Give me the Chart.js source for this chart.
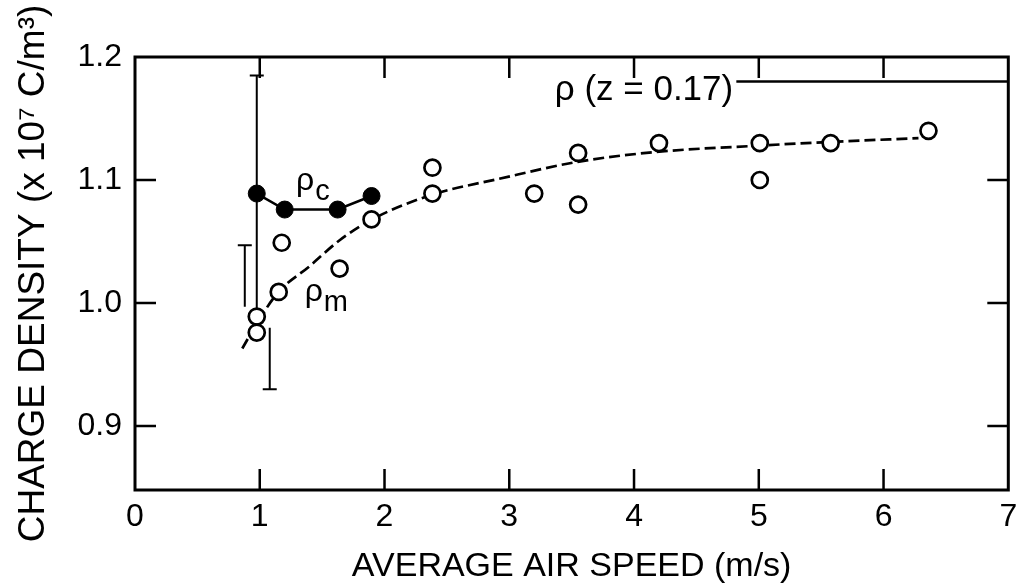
<!DOCTYPE html>
<html><head><meta charset="utf-8">
<script src="https://cdn.jsdelivr.net/npm/chart.js@4/dist/chart.umd.min.js"></script>
<style>html,body{margin:0;padding:0;background:#fff;} canvas{display:block;}</style>
</head><body>
<canvas id="c" width="1019" height="586"></canvas>
<script>
// ---- data ----
const xTicks = [0, 1, 2, 3, 4, 5, 6, 7];
const yTicks = [0.9, 1.0, 1.1, 1.2];
// rho_c (filled circles, solid line)
const rhoCX = [0.976, 1.20, 1.624, 1.896];
const rhoCY = [1.089, 1.076, 1.076, 1.087];
// rho_m (open circles)
const rhoMX = [0.976, 0.976, 1.152, 1.176, 1.64, 1.896, 2.384, 2.384, 3.2, 3.552, 3.552, 4.2, 5.008, 5.008, 5.576, 6.36];
const rhoMY = [0.989, 0.976, 1.009, 1.049, 1.028, 1.068, 1.110, 1.089, 1.089, 1.122, 1.080, 1.130, 1.130, 1.100, 1.130, 1.140];
// dashed fit through rho_m
const fitX = [0.86, 0.98, 1.15, 1.40, 1.64, 1.90, 2.38, 2.92, 3.56, 4.20, 5.01, 5.58, 6.28];
const fitY = [0.963, 0.984, 1.009, 1.030, 1.051, 1.068, 1.088, 1.101, 1.115, 1.123, 1.128, 1.131, 1.134];
// rho (z = 0.17) reference level
const refX = [4.82, 7];
const refY = [1.18, 1.18];
// error bars
const errX = [0.976, 0.88, 1.08];
const errLo = [0.992, 0.997, 0.930];
const errHi = [1.185, 1.047, 0.980];
const errCap = ['top', 'top', 'bottom'];

const FONT = '"Liberation Sans", Arial, Helvetica, sans-serif';
const pts = (xs, ys) => xs.map((x, i) => ({x, y: ys[i]}));

// text annotations (data-anchored)
const notes = {
  rc: {x: 1.29, y: 1.092, main: 'ρ', sub: 'c'},
  rm: {x: 1.36, y: 1.002, main: 'ρ', sub: 'm'},
  rz: {x: 4.795, y: 1.165, text: 'ρ (z = 0.17)'}
};

const errorBarPlugin = {
  id: 'errorBars',
  beforeDatasetsDraw(chart) {
    const {ctx, scales: {x, y}} = chart;
    ctx.save();
    ctx.strokeStyle = '#000';
    ctx.lineWidth = 2;
    const cap = 7;
    errX.forEach((ex, i) => {
      const px = x.getPixelForValue(ex);
      const pLo = y.getPixelForValue(errLo[i]);
      const pHi = y.getPixelForValue(errHi[i]);
      ctx.beginPath();
      ctx.moveTo(px, pLo); ctx.lineTo(px, pHi);
      const cy = errCap[i] === 'top' ? pHi : pLo;
      ctx.moveTo(px - cap, cy); ctx.lineTo(px + cap, cy);
      ctx.stroke();
    });
    ctx.restore();
  }
};

const framePlugin = {
  id: 'frameTicks',
  afterDraw(chart) {
    const {ctx, chartArea: a, scales: {x, y}} = chart;
    ctx.save();
    ctx.strokeStyle = '#000';
    ctx.lineWidth = 2.5;
    const tl = 21;
    ctx.beginPath();
    xTicks.forEach(v => {
      if (v === x.min || v === x.max) return;
      const px = x.getPixelForValue(v);
      ctx.moveTo(px, a.bottom); ctx.lineTo(px, a.bottom - tl);
      ctx.moveTo(px, a.top); ctx.lineTo(px, a.top + tl);
    });
    yTicks.forEach(v => {
      if (v >= y.max || v <= y.min) return;
      const py = y.getPixelForValue(v);
      ctx.moveTo(a.left, py); ctx.lineTo(a.left + tl, py);
      ctx.moveTo(a.right, py); ctx.lineTo(a.right - tl, py);
    });
    ctx.stroke();
    ctx.lineWidth = 3;
    ctx.strokeRect(a.left, a.top, a.right - a.left, a.bottom - a.top);
    ctx.restore();
  }
};

const labelPlugin = {
  id: 'labels',
  afterDatasetsDraw(chart) {
    const {ctx, scales: {x, y}} = chart;
    ctx.save();
    ctx.fillStyle = '#000';
    ctx.textBaseline = 'alphabetic';
    [notes.rc, notes.rm].forEach(n => {
      const px = x.getPixelForValue(n.x), py = y.getPixelForValue(n.y);
      ctx.font = '32px ' + FONT;
      ctx.textAlign = 'left';
      ctx.fillText(n.main, px, py);
      const w = ctx.measureText(n.main).width;
      ctx.font = '29px ' + FONT;
      ctx.fillText(n.sub, px + w + 1, py + 10);
    });
    const n = notes.rz;
    ctx.font = '35px ' + FONT;
    ctx.textAlign = 'right';
    ctx.fillText(n.text, x.getPixelForValue(n.x), y.getPixelForValue(n.y));
    ctx.restore();
  }
};

new Chart(document.getElementById('c'), {
  type: 'scatter',
  data: {
    datasets: [
      {
        label: 'rho_c', data: pts(rhoCX, rhoCY), showLine: true,
        borderColor: '#000', borderWidth: 2.5, backgroundColor: '#000',
        pointRadius: 8.5, pointBackgroundColor: '#000', pointBorderColor: '#000', pointBorderWidth: 1
      },
      {
        label: 'rho_m', data: pts(rhoMX, rhoMY), showLine: false,
        pointRadius: 8, pointBackgroundColor: '#fff', pointBorderColor: '#000', pointBorderWidth: 2.7
      },
      {
        label: 'ref', data: pts(refX, refY), showLine: true,
        borderColor: '#000', borderWidth: 2.5, pointRadius: 0
      },
      {
        label: 'fit', data: pts(fitX, fitY), showLine: true,
        borderColor: '#000', borderWidth: 2.7, borderDash: [11, 5],
        cubicInterpolationMode: 'monotone', pointRadius: 0
      }
    ]
  },
  options: {
    responsive: false,
    animation: false,
    events: [],
    layout: {padding: {top: 57, right: 9, left: 0, bottom: 0}},
    plugins: {legend: {display: false}, tooltip: {enabled: false}},
    scales: {
      x: {
        type: 'linear', min: 0, max: 7,
        afterBuildTicks: s => { s.ticks = xTicks.map(v => ({value: v})); },
        afterFit: s => { s.height = 96; s.paddingLeft = 0; s.paddingRight = 0; },
        grid: {display: false, drawTicks: false},
        border: {display: false},
        ticks: {color: '#000', font: {family: FONT, size: 32}, padding: 8, maxRotation: 0, autoSkip: false,
          callback: v => String(v)},
        title: {display: true, text: 'AVERAGE AIR SPEED (m/s)', color: '#000',
          font: {family: FONT, size: 34, lineHeight: 1}, padding: {top: 0, bottom: 2}}
      },
      y: {
        type: 'linear', min: 0.848, max: 1.2,
        afterBuildTicks: s => { s.ticks = yTicks.map(v => ({value: v})); },
        afterFit: s => { s.width = 135; s.paddingTop = 0; s.paddingBottom = 0; },
        grid: {display: false, drawTicks: false},
        border: {display: false},
        ticks: {color: '#000', font: {family: FONT, size: 32}, padding: 13, autoSkip: false,
          callback: v => Number(v).toFixed(1)},
        title: {display: true, text: 'CHARGE DENSITY (x 10⁷ C/m³)', color: '#000',
          font: {family: FONT, size: 37, lineHeight: 1}, padding: {top: 15, bottom: 0}}
      }
    }
  },
  plugins: [errorBarPlugin, labelPlugin, framePlugin]
});
</script>
</body></html>
